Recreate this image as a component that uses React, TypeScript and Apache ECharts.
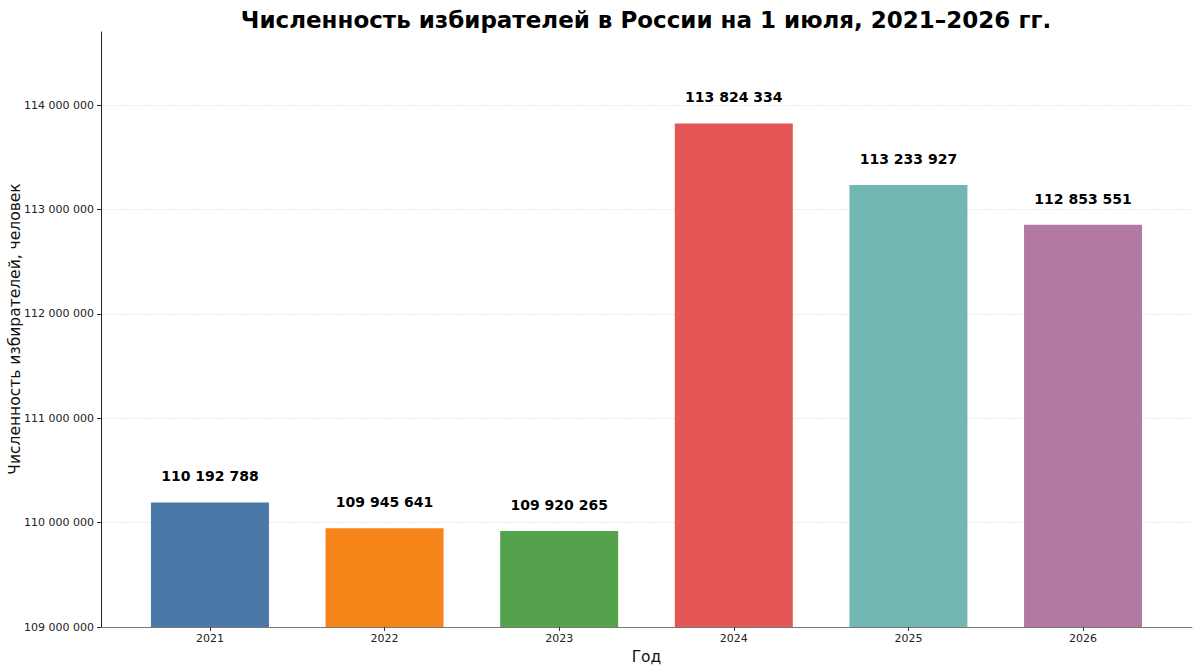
import { useEffect, useRef } from 'react';
import * as echarts from 'echarts';

const YEARS = ['2021', '2022', '2023', '2024', '2025', '2026'];
const VOTERS = [110192788, 109945641, 109920265, 113824334, 113233927, 112853551];
const COLORS = ['#4c78a8', '#f58518', '#54a24b', '#e45756', '#72b7b2', '#b279a2'];
const Y_TICKS = [109000000, 110000000, 111000000, 112000000, 113000000, 114000000];

const FONT = 'DejaVu Sans';
const TEXT_COLOR = '#111';

function formatSpaced(v: number): string {
  return String(Math.round(v)).replace(/\B(?=(\d{3})+(?!\d))/g, ' ');
}

export default function App() {
  const ref = useRef<HTMLDivElement>(null);

  useEffect(() => {
    if (!ref.current) return;
    const chart = echarts.init(ref.current, undefined, { renderer: 'svg' });

    chart.setOption({
      animation: false,
      textStyle: { fontFamily: FONT },
      title: {
        text: 'Численность избирателей в России на 1 июля, 2021–2026 гг.',
        left: 641,
        textAlign: 'center',
        top: 3,
        textStyle: { fontFamily: FONT, fontSize: 23, fontWeight: 'bold', color: '#000' },
      },
      // y-axis title placed by hand: ECharts 6 pushes the axis name off the edge
      graphic: [
        {
          type: 'text',
          x: 15,
          y: 329,
          rotation: Math.PI / 2,
          style: {
            text: 'Численность избирателей, человек',
            font: `15.5px "${FONT}"`,
            fill: TEXT_COLOR,
            align: 'center',
            verticalAlign: 'middle',
          },
        },
      ],
      grid: { left: 101, right: 8, top: 32, bottom: 44, outerBoundsMode: 'none' },
      xAxis: {
        type: 'value',
        min: -0.624,
        max: 5.624,
        name: 'Год',
        nameLocation: 'middle',
        nameGap: 21,
        nameTextStyle: { fontFamily: FONT, fontSize: 15.5, color: TEXT_COLOR },
        axisLine: { show: true, onZero: false, lineStyle: { color: '#777', width: 1 } },
        axisTick: {
          show: true,
          customValues: [0, 1, 2, 3, 4, 5],
          length: 4,
          lineStyle: { color: '#333' },
        },
        axisLabel: {
          customValues: [0, 1, 2, 3, 4, 5],
          formatter: (v: number) => YEARS[Math.round(v)] ?? '',
          fontFamily: FONT,
          fontSize: 11,
          color: '#222',
          margin: 6,
        },
        splitLine: { show: false },
      },
      yAxis: {
        type: 'value',
        min: 109000000,
        max: 114700000,
        interval: 1000000,
        axisLine: { show: true, onZero: false, lineStyle: { color: '#222', width: 1 } },
        axisTick: {
          show: true,
          customValues: Y_TICKS,
          length: 4,
          lineStyle: { color: '#333' },
        },
        axisLabel: {
          customValues: Y_TICKS,
          formatter: (v: number) => formatSpaced(v),
          fontFamily: FONT,
          fontSize: 11,
          color: '#222',
          margin: 7,
        },
        splitLine: {
          show: true,
          lineStyle: { color: '#e3e3e3', type: 'dashed', width: 0.8 },
        },
      },
      series: [
        {
          type: 'bar',
          barWidth: 118,
          data: VOTERS.map((v, i) => ({
            value: [i, v],
            itemStyle: { color: COLORS[i] },
          })),
          label: {
            show: true,
            position: 'top',
            distance: 19,
            formatter: (p: any) => formatSpaced(p.value[1]),
            fontFamily: FONT,
            fontSize: 14,
            fontWeight: 'bold',
            color: '#000',
          },
        },
      ],
    });

    const onResize = () => chart.resize();
    window.addEventListener('resize', onResize);
    return () => {
      window.removeEventListener('resize', onResize);
      chart.dispose();
    };
  }, []);

  return (
    <div
      ref={ref}
      style={{ position: 'absolute', left: 0, top: 0, width: 1200, height: 671, background: '#fff' }}
    />
  );
}
